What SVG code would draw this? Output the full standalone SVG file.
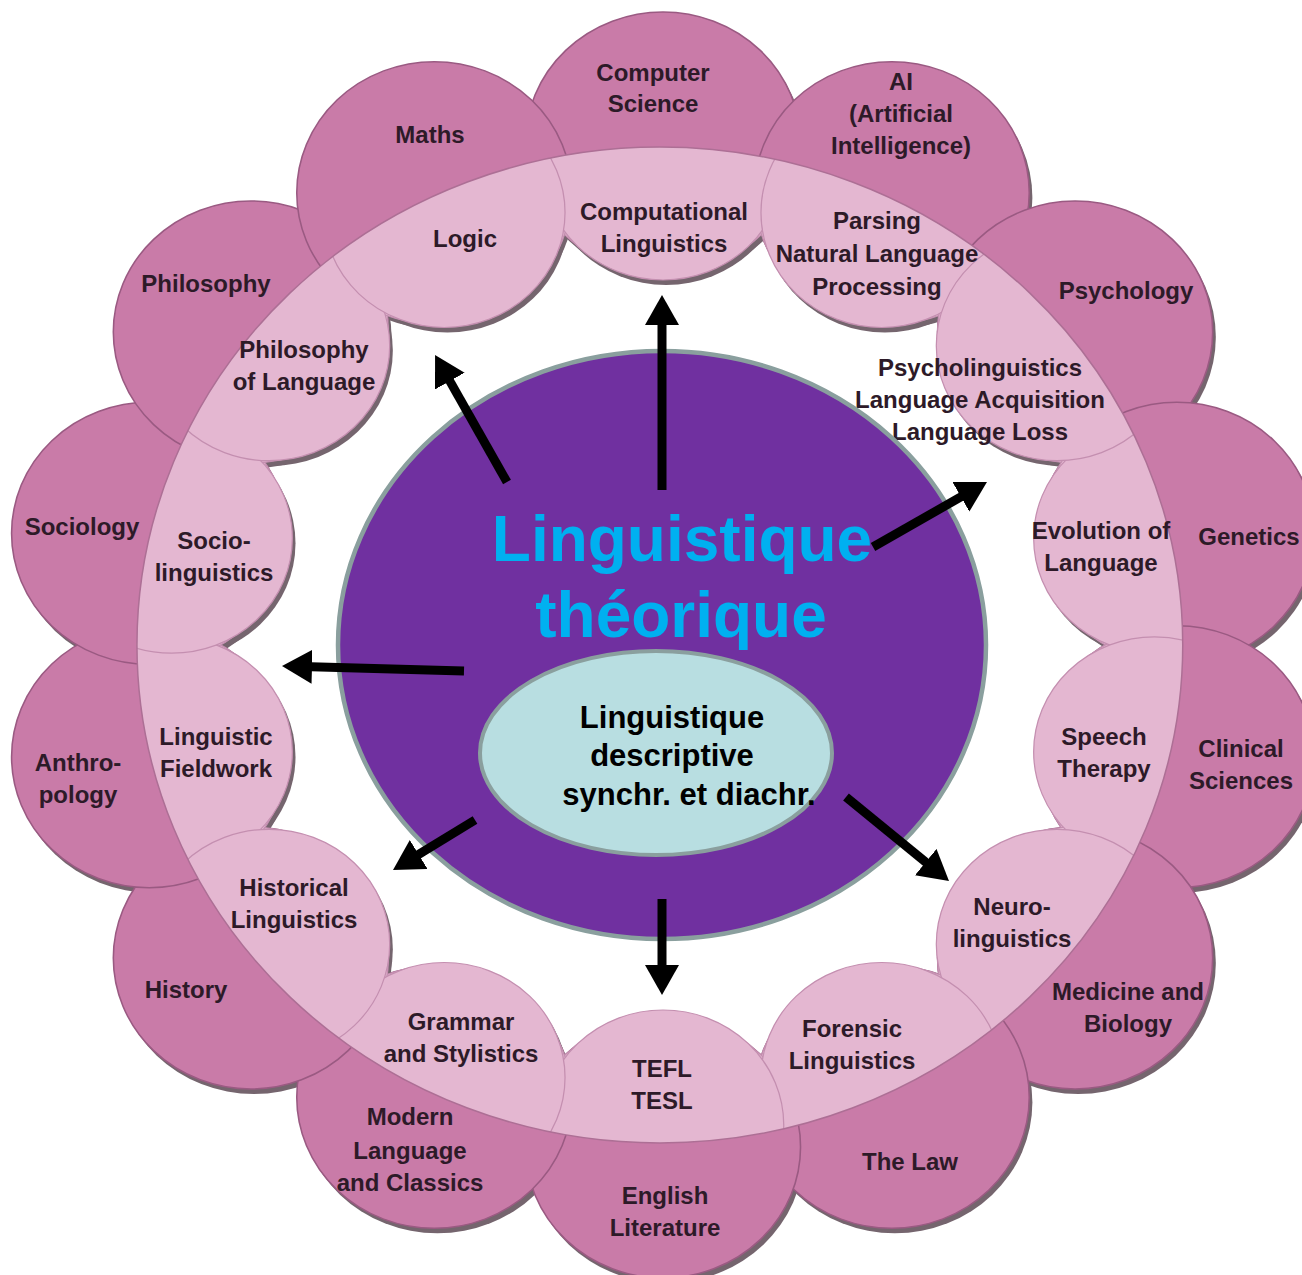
<svg xmlns="http://www.w3.org/2000/svg" xmlns:xlink="http://www.w3.org/1999/xlink" width="1302" height="1275" viewBox="0 0 1302 1275">
<style>
.rt{font-family:"Liberation Sans",Arial,sans-serif;font-weight:bold;font-size:24px;fill:#2d1a28;text-anchor:middle}
.ct{font-family:"Liberation Sans",Arial,sans-serif;font-weight:bold;text-anchor:middle}
.ring circle{vector-effect:non-scaling-stroke}
.arrow{stroke:#000;stroke-width:9;fill:none;marker-end:url(#ah)}
</style>
<defs>
<g id="oc">
<circle cx="0" cy="-502" r="131"/>
<circle cx="217.8" cy="-452.3" r="131"/>
<circle cx="392.5" cy="-313" r="131"/>
<circle cx="489.4" cy="-111.7" r="131"/>
<circle cx="489.4" cy="111.7" r="131"/>
<circle cx="392.5" cy="313" r="131"/>
<circle cx="217.8" cy="452.3" r="131"/>
<circle cx="0" cy="502" r="131"/>
<circle cx="-217.8" cy="452.3" r="131"/>
<circle cx="-392.5" cy="313" r="131"/>
<circle cx="-489.4" cy="111.7" r="131"/>
<circle cx="-489.4" cy="-111.7" r="131"/>
<circle cx="-392.5" cy="-313" r="131"/>
<circle cx="-217.8" cy="-452.3" r="131"/>
</g>
<g id="ic">
<circle cx="468" cy="-106.8" r="115"/>
<circle cx="-468" cy="106.8" r="115"/>
<circle cx="0" cy="-480" r="115"/>
<circle cx="208.3" cy="-432.5" r="115"/>
<circle cx="375.3" cy="-299.3" r="115"/>
<circle cx="468" cy="106.8" r="115"/>
<circle cx="375.3" cy="299.3" r="115"/>
<circle cx="208.3" cy="432.5" r="115"/>
<circle cx="0" cy="480" r="115"/>
<circle cx="-208.3" cy="432.5" r="115"/>
<circle cx="-375.3" cy="299.3" r="115"/>
<circle cx="-468" cy="-106.8" r="115"/>
<circle cx="-375.3" cy="-299.3" r="115"/>
<circle cx="-208.3" cy="-432.5" r="115"/>
</g>
<clipPath id="big"><circle cx="-3" cy="0" r="498"/></clipPath>
<marker id="ah" markerUnits="userSpaceOnUse" markerWidth="32" markerHeight="36" refX="10" refY="17" orient="auto"><path d="M0,0 L30,17 L0,34 Z" fill="#000"/></marker>
</defs>
<rect width="1302" height="1275" fill="#ffffff"/>
<g id="ring" class="ring" transform="translate(663 645) scale(1.05 1)">
<use xlink:href="#oc" href="#oc" transform="translate(3 5)" fill="#75656e"/>
<use xlink:href="#oc" href="#oc" fill="#c97ba8" stroke="#9a5a82" stroke-width="1.5"/>
<g clip-path="url(#big)">
<use xlink:href="#ic" href="#ic" transform="translate(3 5)" fill="#75656e"/>
<use xlink:href="#oc" href="#oc" fill="#e4b7d1" stroke="#c48fb0" stroke-width="1.2"/>
<use xlink:href="#ic" href="#ic" fill="#e4b7d1" stroke="#c48fb0" stroke-width="1.2"/>
</g>
<circle cx="-3" cy="0" r="498" fill="none" stroke="#ad6f95" stroke-width="1.5"/>
</g>
<g id="outer-labels">
<g id="n-computer-science"><text class="rt" x="653" y="81">Computer</text><text class="rt" x="653" y="112">Science</text></g>
<g id="n-maths"><text class="rt" x="430" y="143">Maths</text></g>
<g id="n-ai"><text class="rt" x="901" y="90">AI</text><text class="rt" x="901" y="122">(Artificial</text><text class="rt" x="901" y="154">Intelligence)</text></g>
<g id="n-philosophy"><text class="rt" x="206" y="292">Philosophy</text></g>
<g id="n-psychology"><text class="rt" x="1126" y="299">Psychology</text></g>
<g id="n-sociology"><text class="rt" x="82" y="535">Sociology</text></g>
<g id="n-genetics"><text class="rt" x="1249" y="545">Genetics</text></g>
<g id="n-anthropology"><text class="rt" x="78" y="771">Anthro-</text><text class="rt" x="78" y="803">pology</text></g>
<g id="n-clinical"><text class="rt" x="1241" y="757">Clinical</text><text class="rt" x="1241" y="789">Sciences</text></g>
<g id="n-history"><text class="rt" x="186" y="998">History</text></g>
<g id="n-medicine"><text class="rt" x="1128" y="1000">Medicine and</text><text class="rt" x="1128" y="1032">Biology</text></g>
<g id="n-modern"><text class="rt" x="410" y="1125">Modern</text><text class="rt" x="410" y="1159">Language</text><text class="rt" x="410" y="1191">and Classics</text></g>
<g id="n-english"><text class="rt" x="665" y="1204">English</text><text class="rt" x="665" y="1236">Literature</text></g>
<g id="n-law"><text class="rt" x="910" y="1170">The Law</text></g>
</g>
<g id="inner-labels">
<g id="n-complin"><text class="rt" x="664" y="220">Computational</text><text class="rt" x="664" y="252">Linguistics</text></g>
<g id="n-logic"><text class="rt" x="465" y="247">Logic</text></g>
<g id="n-parsing"><text class="rt" x="877" y="229">Parsing</text><text class="rt" x="877" y="262">Natural Language</text><text class="rt" x="877" y="295">Processing</text></g>
<g id="n-phillang"><text class="rt" x="304" y="358">Philosophy</text><text class="rt" x="304" y="390">of Language</text></g>
<g id="n-psycholing"><text class="rt" x="980" y="376">Psycholinguistics</text><text class="rt" x="980" y="408">Language Acquisition</text><text class="rt" x="980" y="440">Language Loss</text></g>
<g id="n-socioling"><text class="rt" x="214" y="549">Socio-</text><text class="rt" x="214" y="581">linguistics</text></g>
<g id="n-evolution"><text class="rt" x="1101" y="539">Evolution of</text><text class="rt" x="1101" y="571">Language</text></g>
<g id="n-fieldwork"><text class="rt" x="216" y="745">Linguistic</text><text class="rt" x="216" y="777">Fieldwork</text></g>
<g id="n-speech"><text class="rt" x="1104" y="745">Speech</text><text class="rt" x="1104" y="777">Therapy</text></g>
<g id="n-historical"><text class="rt" x="294" y="896">Historical</text><text class="rt" x="294" y="928">Linguistics</text></g>
<g id="n-neuro"><text class="rt" x="1012" y="915">Neuro-</text><text class="rt" x="1012" y="947">linguistics</text></g>
<g id="n-grammar"><text class="rt" x="461" y="1030">Grammar</text><text class="rt" x="461" y="1062">and Stylistics</text></g>
<g id="n-tefl"><text class="rt" x="662" y="1077">TEFL</text><text class="rt" x="662" y="1109">TESL</text></g>
<g id="n-forensic"><text class="rt" x="852" y="1037">Forensic</text><text class="rt" x="852" y="1069">Linguistics</text></g>
</g>
<g id="n-theorique">
<ellipse cx="662" cy="645" rx="324" ry="294" fill="#7030a0" stroke="#8a9f9e" stroke-width="4.5"/>
<text class="ct" x="682" y="561" font-size="64" fill="#00b0f0">Linguistique</text>
<text class="ct" x="681" y="637" font-size="64" fill="#00b0f0">théorique</text>
</g>
<g id="n-descriptive">
<ellipse cx="656" cy="753" rx="176" ry="102" fill="#b8dee1" stroke="#8a9f9e" stroke-width="4"/>
<text class="ct" x="672" y="728" font-size="31" fill="#000">Linguistique</text>
<text class="ct" x="672" y="766" font-size="31" fill="#000">descriptive</text>
<text class="ct" x="689" y="805" font-size="31" fill="#000">synchr. et diachr.</text>
</g>
<g id="connectors">
<line class="arrow" x1="662" y1="490" x2="662" y2="315"/>
<line class="arrow" x1="507" y1="482" x2="444.9" y2="372.4"/>
<line class="arrow" x1="873" y1="547" x2="969.6" y2="491.9"/>
<line class="arrow" x1="464" y1="671" x2="302" y2="666.5"/>
<line class="arrow" x1="475" y1="820" x2="410.1" y2="859.6"/>
<line class="arrow" x1="662" y1="899" x2="662" y2="975"/>
<line class="arrow" x1="846" y1="797" x2="933.5" y2="868.4"/>
</g>
</svg>
